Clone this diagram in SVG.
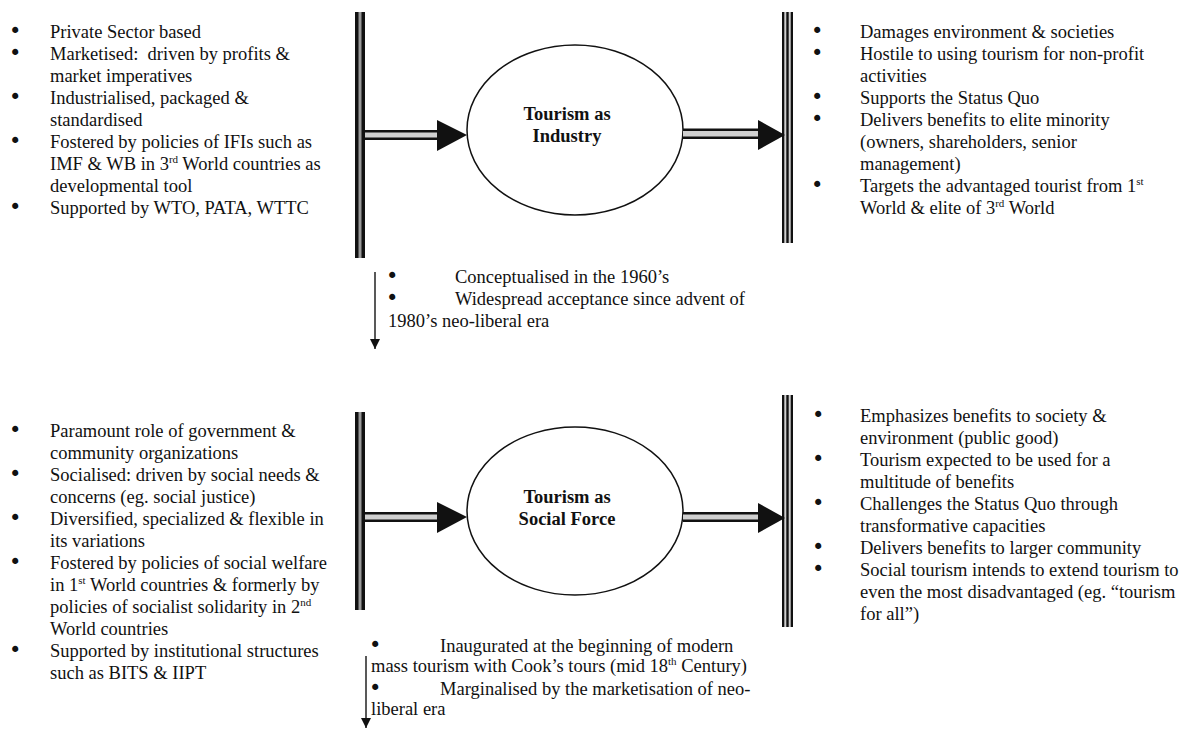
<svg xmlns="http://www.w3.org/2000/svg" width="1189" height="729" viewBox="0 0 1189 729">
<defs>
<style>
text{font-family:"Liberation Serif","Times New Roman",serif;font-size:18.5px;fill:#111}
.bul{font-family:"DejaVu Sans","Liberation Sans",sans-serif;font-size:21px}
.b{font-weight:bold;text-anchor:middle}
.sup{font-size:11px}
.blk{fill:#111}
.gap{fill:#9a9a9a}
.lgap{fill:#d0d0d0}
.ell{fill:#fff;stroke:#111;stroke-width:1.5}
.thin{stroke:#222;stroke-width:1.5;fill:none}
</style>
<marker id="down" markerWidth="10" markerHeight="10" refX="10" refY="5" orient="auto" markerUnits="userSpaceOnUse" viewBox="0 0 10 10">
<path d="M0,0 L10,5 L0,10 Z" fill="#111"/>
</marker>
</defs>
<rect width="1189" height="729" fill="#fff"/>

<!-- Top section -->
<g id="industry-inputs">
<text y="38"><tspan x="9" class="bul">•</tspan><tspan x="50">Private Sector based</tspan></text>
<text y="60"><tspan x="9" class="bul">•</tspan><tspan x="50">Marketised:&#160; driven by profits &amp;</tspan></text>
<text x="50" y="82">market imperatives</text>
<text y="104"><tspan x="9" class="bul">•</tspan><tspan x="50">Industrialised, packaged &amp;</tspan></text>
<text x="50" y="126">standardised</text>
<text y="148"><tspan x="9" class="bul">•</tspan><tspan x="50">Fostered by policies of IFIs such as</tspan></text>
<text x="50" y="170">IMF &amp; WB in 3<tspan class="sup" dy="-7">rd</tspan><tspan dy="7"> World countries as</tspan></text>
<text x="50" y="192">developmental tool</text>
<text y="214"><tspan x="9" class="bul">•</tspan><tspan x="50">Supported by WTO, PATA, WTTC</tspan></text>
</g>

<g id="industry-left-bar">
<rect x="355" y="12" width="10" height="246" class="blk"/>
<rect x="358.5" y="12" width="3" height="246" class="gap"/>
</g>

<g id="industry-node">
<ellipse cx="575" cy="130" rx="108" ry="85" class="ell"/>
<text x="567" y="120" class="b">Tourism as</text>
<text x="567" y="142" class="b">Industry</text>
</g>

<g id="industry-right-bar">
<rect x="782" y="12" width="11" height="231" class="blk"/>
<rect x="784.3" y="12" width="2" height="231" class="lgap"/>
<rect x="788.7" y="12" width="2" height="231" class="lgap"/>
</g>

<g id="industry-outcomes">
<text y="38"><tspan x="811" class="bul">•</tspan><tspan x="860">Damages environment &amp; societies</tspan></text>
<text y="60"><tspan x="811" class="bul">•</tspan><tspan x="860">Hostile to using tourism for non-profit</tspan></text>
<text x="860" y="82">activities</text>
<text y="104"><tspan x="811" class="bul">•</tspan><tspan x="860">Supports the Status Quo</tspan></text>
<text y="126"><tspan x="811" class="bul">•</tspan><tspan x="860">Delivers benefits to elite minority</tspan></text>
<text x="860" y="148">(owners, shareholders, senior</text>
<text x="860" y="170">management)</text>
<text y="192"><tspan x="811" class="bul">•</tspan><tspan x="860">Targets the advantaged tourist from 1</tspan><tspan class="sup" dy="-7">st</tspan></text>
<text x="860" y="214">World &amp; elite of 3<tspan class="sup" dy="-7">rd</tspan><tspan dy="7"> World</tspan></text>
</g>

<g id="industry-history">
<text y="283"><tspan x="386" class="bul">•</tspan><tspan x="455">Conceptualised in the 1960’s</tspan></text>
<text y="305"><tspan x="386" class="bul">•</tspan><tspan x="455">Widespread acceptance since advent of</tspan></text>
<text x="388" y="327">1980’s neo-liberal era</text>
</g>

<!-- Bottom section -->
<g id="social-inputs">
<text y="437"><tspan x="9" class="bul">•</tspan><tspan x="50">Paramount role of government &amp;</tspan></text>
<text x="50" y="459">community organizations</text>
<text y="481"><tspan x="9" class="bul">•</tspan><tspan x="50">Socialised: driven by social needs &amp;</tspan></text>
<text x="50" y="503">concerns (eg. social justice)</text>
<text y="525"><tspan x="9" class="bul">•</tspan><tspan x="50">Diversified, specialized &amp; flexible in</tspan></text>
<text x="50" y="547">its variations</text>
<text y="569"><tspan x="9" class="bul">•</tspan><tspan x="50">Fostered by policies of social welfare</tspan></text>
<text x="50" y="591">in 1<tspan class="sup" dy="-7">st</tspan><tspan dy="7"> World countries &amp; formerly by</tspan></text>
<text x="50" y="613">policies of socialist solidarity in 2<tspan class="sup" dy="-7">nd</tspan></text>
<text x="50" y="635">World countries</text>
<text y="657"><tspan x="9" class="bul">•</tspan><tspan x="50">Supported by institutional structures</tspan></text>
<text x="50" y="679">such as BITS &amp; IIPT</text>
</g>

<g id="social-left-bar">
<rect x="355" y="412" width="10" height="198" class="blk"/>
<rect x="358.5" y="412" width="3" height="198" class="gap"/>
</g>

<g id="social-node">
<ellipse cx="575" cy="511" rx="108" ry="84" class="ell"/>
<text x="567" y="503" class="b">Tourism as</text>
<text x="567" y="525" class="b">Social Force</text>
</g>

<g id="social-right-bar">
<rect x="782" y="395" width="11" height="232" class="blk"/>
<rect x="784.3" y="395" width="2" height="232" class="lgap"/>
<rect x="788.7" y="395" width="2" height="232" class="lgap"/>
</g>

<g id="social-outcomes">
<text y="422"><tspan x="812" class="bul">•</tspan><tspan x="860">Emphasizes benefits to society &amp;</tspan></text>
<text x="860" y="444">environment (public good)</text>
<text y="466"><tspan x="812" class="bul">•</tspan><tspan x="860">Tourism expected to be used for a</tspan></text>
<text x="860" y="488">multitude of benefits</text>
<text y="510"><tspan x="812" class="bul">•</tspan><tspan x="860">Challenges the Status Quo through</tspan></text>
<text x="860" y="532">transformative capacities</text>
<text y="554"><tspan x="812" class="bul">•</tspan><tspan x="860">Delivers benefits to larger community</tspan></text>
<text y="576"><tspan x="812" class="bul">•</tspan><tspan x="860">Social tourism intends to extend tourism to</tspan></text>
<text x="860" y="598">even the most disadvantaged (eg. “tourism</text>
<text x="860" y="620">for all”)</text>
</g>

<g id="social-history">
<text y="652"><tspan x="369" class="bul">•</tspan><tspan x="440">Inaugurated at the beginning of modern</tspan></text>
<text x="371" y="672">mass tourism with Cook’s tours (mid 18<tspan class="sup" dy="-7">th</tspan><tspan dy="7"> Century)</tspan></text>
<text y="695"><tspan x="369" class="bul">•</tspan><tspan x="440">Marginalised by the marketisation of neo-</tspan></text>
<text x="371" y="715">liberal era</text>
</g>

<!-- Connectors -->
<g id="connectors">
<rect x="365" y="131" width="73" height="8" class="lgap"/>
<rect x="365" y="130" width="73" height="2.5" class="blk"/>
<rect x="365" y="137.5" width="73" height="2.5" class="blk"/>
<path d="M437,120 L467,135 L437,151 Z" class="blk"/>
<rect x="683" y="129" width="76" height="10" class="lgap"/>
<rect x="683" y="128.5" width="76" height="2.5" class="blk"/>
<rect x="683" y="136.5" width="76" height="2.5" class="blk"/>
<path d="M758,120 L785,135 L758,150 Z" class="blk"/>
<rect x="365" y="513" width="73" height="8" class="lgap"/>
<rect x="365" y="512" width="73" height="2.5" class="blk"/>
<rect x="365" y="519.5" width="73" height="2.5" class="blk"/>
<path d="M437,502 L467,517 L437,533 Z" class="blk"/>
<rect x="683" y="513" width="76" height="8" class="lgap"/>
<rect x="683" y="512" width="76" height="2.5" class="blk"/>
<rect x="683" y="519.5" width="76" height="2.5" class="blk"/>
<path d="M758,503 L785,518 L758,533 Z" class="blk"/>
<line x1="375" y1="272" x2="375" y2="349" class="thin" marker-end="url(#down)"/>
<line x1="366" y1="656" x2="366" y2="728" class="thin" marker-end="url(#down)"/>
</g>
</svg>
